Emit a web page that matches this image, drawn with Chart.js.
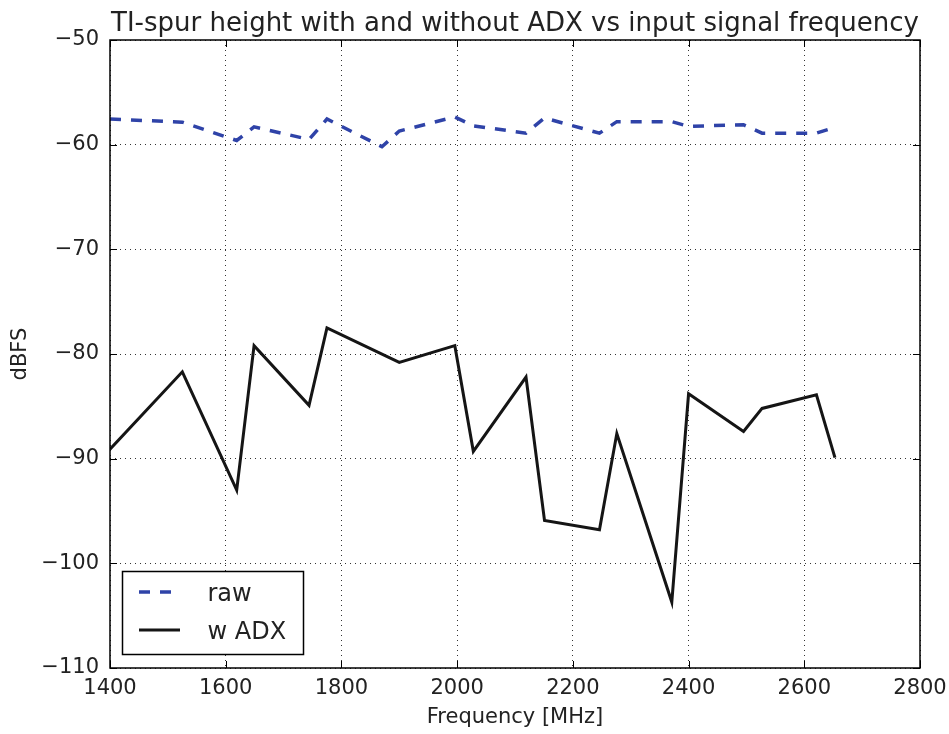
<!DOCTYPE html>
<html>
<head>
<meta charset="utf-8">
<title>TI-spur height vs input signal frequency</title>
<script src="https://cdn.jsdelivr.net/npm/chart.js@4.4.0/dist/chart.umd.min.js"></script>
<style>
  html, body { margin: 0; padding: 0; background: #fff; }
  #wrap { width: 949px; height: 734px; }
</style>
</head>
<body>
<div id="wrap"><canvas id="spurChart" width="949" height="734"></canvas></div>
<script>
// measured spur levels (dBFS) against input frequency (MHz)
const freqRaw = [1400, 1525, 1619, 1649, 1744, 1775, 1870, 1900, 1996, 2028, 2119, 2151, 2246, 2276, 2371, 2400, 2495, 2527, 2621, 2653];
const rawDbfs = [-57.55, -57.85, -59.6, -58.3, -59.5, -57.55, -60.2, -58.7, -57.35, -58.2, -58.9, -57.45, -58.9, -57.8, -57.8, -58.25, -58.1, -58.9, -58.9, -58.35];

const freqAdx = [1400, 1525, 1619, 1649, 1744, 1775, 1900, 1996, 2028, 2119, 2151, 2246, 2276, 2371, 2400, 2495, 2527, 2621, 2653];
const adxDbfs = [-89.1, -81.7, -93.0, -79.2, -84.9, -77.5, -80.8, -79.2, -89.3, -82.2, -95.9, -96.8, -87.6, -103.7, -83.8, -87.4, -85.2, -83.9, -89.9];

const seriesLabels = ['raw', 'w ADX'];
const titleText = 'TI-spur height with and without ADX vs input signal frequency';
const xLabel = 'Frequency [MHz]';
const yLabel = 'dBFS';

const xRange = [1400, 2800], xStep = 200;
const yRange = [-110, -50], yStep = 10;

const FONT = "'DejaVu Sans', 'Bitstream Vera Sans', sans-serif";
const TEXT = '#222';

function toPoints(xs, ys) {
    return xs.map((x, i) => ({ x: x, y: ys[i] }));
}

// matplotlib-ish frame: box round the plot, inward ticks on all sides,
// title over the plot area and a legend in the lower left corner
const framePlugin = {
    id: 'frame',
    afterDraw(chart) {
        const ctx = chart.ctx;
        const a = chart.chartArea;
        const xs = chart.scales.x, ys = chart.scales.y;
        ctx.save();

        ctx.strokeStyle = '#000';
        ctx.lineWidth = 1.5;
        ctx.setLineDash([]);
        ctx.strokeRect(a.left, a.top, a.right - a.left, a.bottom - a.top);

        const tl = 7;
        ctx.lineWidth = 1;
        ctx.beginPath();
        xs.ticks.forEach(t => {
            const px = Math.round(xs.getPixelForValue(t.value)) + 0.5;
            ctx.moveTo(px, a.bottom); ctx.lineTo(px, a.bottom - tl);
            ctx.moveTo(px, a.top); ctx.lineTo(px, a.top + tl);
        });
        ys.ticks.forEach(t => {
            const py = Math.round(ys.getPixelForValue(t.value)) + 0.5;
            ctx.moveTo(a.left, py); ctx.lineTo(a.left + tl, py);
            ctx.moveTo(a.right, py); ctx.lineTo(a.right - tl, py);
        });
        ctx.stroke();

        // title
        ctx.fillStyle = TEXT;
        ctx.font = '26px ' + FONT;
        ctx.textAlign = 'center';
        ctx.textBaseline = 'alphabetic';
        ctx.fillText(titleText, (a.left + a.right) / 2, 31);

        // legend
        const bx = a.left + 12.5, by = a.bottom - 96.5, bw = 181, bh = 83;
        ctx.fillStyle = '#fff';
        ctx.fillRect(bx, by, bw, bh);
        ctx.strokeStyle = '#000';
        ctx.lineWidth = 1.5;
        ctx.strokeRect(bx, by, bw, bh);

        ctx.font = '24px ' + FONT;
        ctx.textAlign = 'left';
        chart.data.datasets.forEach((ds, i) => {
            const rowY = by + 20.5 + i * 38;
            ctx.strokeStyle = ds.borderColor;
            ctx.lineWidth = ds.borderWidth;
            ctx.setLineDash(ds.borderDash || []);
            ctx.lineCap = 'butt';
            ctx.beginPath();
            ctx.moveTo(bx + 16.5, rowY);
            ctx.lineTo(bx + 57.5, rowY);
            ctx.stroke();
            ctx.setLineDash([]);
            ctx.fillStyle = TEXT;
            ctx.fillText(ds.label, bx + 85, rowY + 8.5);
        });

        ctx.restore();
    }
};

const minus = v => String(v).replace('-', '\u2212');

new Chart(document.getElementById('spurChart'), {
    type: 'line',
    data: {
        datasets: [
            {
                label: seriesLabels[0],
                data: toPoints(freqRaw, rawDbfs),
                borderColor: '#2f43a8',
                borderWidth: 3.5,
                borderDash: [11, 10],
                borderCapStyle: 'butt',
                pointRadius: 0,
                tension: 0,
                fill: false
            },
            {
                label: seriesLabels[1],
                data: toPoints(freqAdx, adxDbfs),
                borderColor: '#151515',
                borderWidth: 3,
                pointRadius: 0,
                tension: 0,
                fill: false
            }
        ]
    },
    options: {
        responsive: false,
        animation: false,
        layout: { padding: { top: 40, right: 29, left: 0, bottom: 0 } },
        plugins: {
            legend: { display: false },
            title: { display: false },
            tooltip: { enabled: false }
        },
        scales: {
            x: {
                type: 'linear',
                min: xRange[0],
                max: xRange[1],
                afterFit(scale) {
                    scale.height = 66;
                    // let the outer padding alone decide the plot width
                    scale.paddingLeft = 0;
                    scale.paddingRight = 0;
                },
                ticks: {
                    stepSize: xStep,
                    padding: 8,
                    color: TEXT,
                    font: { family: FONT, size: 21 },
                    maxRotation: 0,
                    callback: v => minus(v)
                },
                grid: { color: 'rgba(0,0,0,0.8)', lineWidth: 1, drawTicks: false },
                border: { display: false, dash: [1, 4] },
                title: {
                    display: true,
                    text: xLabel,
                    color: TEXT,
                    font: { family: FONT, size: 21 },
                    padding: { top: 0, bottom: 3.5 }
                }
            },
            y: {
                min: yRange[0],
                max: yRange[1],
                afterFit(scale) {
                    scale.width = 110;
                    scale.paddingTop = 0;
                    scale.paddingBottom = 0;
                },
                ticks: {
                    stepSize: yStep,
                    padding: 11,
                    color: TEXT,
                    font: { family: FONT, size: 21 },
                    callback: v => minus(v)
                },
                grid: { color: 'rgba(0,0,0,0.8)', lineWidth: 1, drawTicks: false },
                border: { display: false, dash: [1, 4] },
                title: {
                    display: true,
                    text: yLabel,
                    color: TEXT,
                    font: { family: FONT, size: 21 },
                    padding: { top: 8, bottom: 0 }
                }
            }
        }
    },
    plugins: [framePlugin]
});
</script>
</body>
</html>
